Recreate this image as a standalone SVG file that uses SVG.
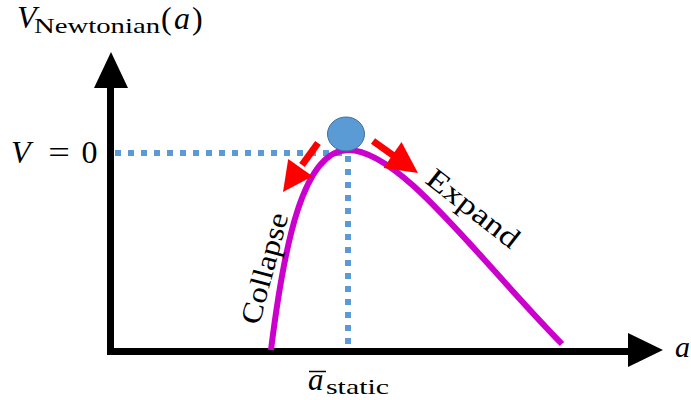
<svg xmlns="http://www.w3.org/2000/svg" width="691" height="400" viewBox="0 0 691 400">
  <style>
    .it { font-style: italic; }
    .axis { stroke: #000; stroke-width: 7; fill: none; }
    .dot { stroke: #5B9BD5; stroke-width: 6; stroke-dasharray: 6 7; fill: none; }
    .curve { stroke: #CC00CC; stroke-width: 6; fill: none; stroke-linecap: butt; }
    .rshaft { stroke: #FF0000; stroke-width: 7; fill: none; }
    .rhead { fill: #FF0000; }
  </style>
  <rect width="691" height="400" fill="#fff"/>
  <g id="connectors">
    <line class="axis" x1="110.5" y1="355" x2="110.5" y2="86"/>
    <polygon points="111,52 94,88 128,88" fill="#000"/>
    <line class="axis" x1="107" y1="351.5" x2="630" y2="351.5"/>
    <polygon points="663,350 628,333 628,367" fill="#000"/>
    <line class="dot" x1="115" y1="153" x2="345" y2="153"/>
    <line class="dot" x1="348" y1="156" x2="348" y2="348"/>
    <path class="curve" d="M271,350 C284,245 303,150 348,150 C400,150 475,255 562,344"/>
    <line class="rshaft" x1="318" y1="143" x2="302" y2="165"/>
    <polygon class="rhead" points="283,192 288.2,158.9 312.6,176.3"/>
    <line class="rshaft" x1="373" y1="141" x2="394" y2="156"/>
    <polygon class="rhead" points="418,173 383.5,168 401.5,142"/>
  </g>
  <g id="ball">
    <ellipse cx="346" cy="134" rx="18.5" ry="17" fill="#5B9BD5" stroke="#41719C" stroke-width="1"/>
  </g>
  <g font-family="Liberation Serif, DejaVu Serif, serif" fill="#000">
    <g id="ylabel">
      <text class="it" x="17" y="28" font-size="32">V</text>
      <text x="34" y="33" font-size="22" textLength="126" lengthAdjust="spacingAndGlyphs">Newtonian</text>
      <text x="161" y="29" font-size="32">(</text>
      <text class="it" x="174" y="29" font-size="32">a</text>
      <text x="192" y="29" font-size="32">)</text>
    </g>
    <g id="v0label">
      <text class="it" x="11" y="163" font-size="32">V</text>
      <text x="59" y="163" font-size="32" text-anchor="middle" transform="translate(59 0) scale(1.2 1) translate(-59 0)">=</text>
      <text x="89.5" y="163" font-size="32" text-anchor="middle">0</text>
    </g>
    <g id="xlabel">
      <text class="it" x="675" y="357" font-size="30">a</text>
    </g>
    <g id="astatic">
      <line x1="309" y1="371.5" x2="326" y2="371.5" stroke="#000" stroke-width="1.5"/>
      <text class="it" x="308" y="390" font-size="31">a</text>
      <text x="326" y="394" font-size="22" textLength="63" lengthAdjust="spacingAndGlyphs">static</text>
    </g>
    <g id="collapse">
      <text font-size="29" textLength="114" lengthAdjust="spacingAndGlyphs" transform="translate(259 326) rotate(-75)">Collapse</text>
    </g>
    <g id="expand">
      <text font-size="29" textLength="110" lengthAdjust="spacingAndGlyphs" transform="translate(424 182) rotate(38)">Expand</text>
    </g>
  </g>
</svg>
